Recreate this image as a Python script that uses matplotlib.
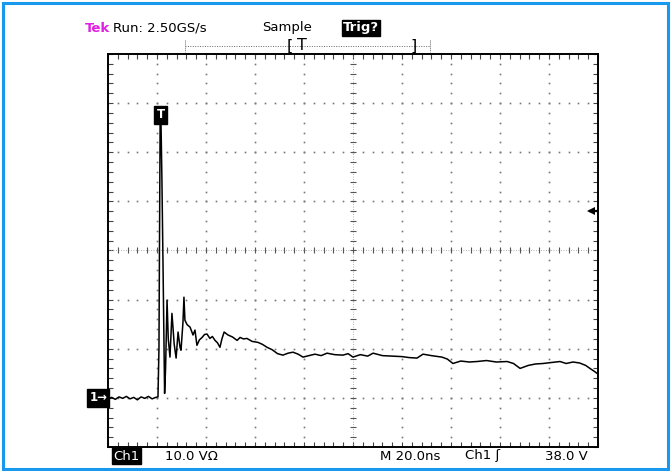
import numpy as np
import matplotlib
matplotlib.use("Agg")
import matplotlib.pyplot as plt
from matplotlib.patches import Rectangle

# scope settings (20 ns/div, 10 V/div, trigger 38 V)
t_start, t_div, n_xdiv = -20.0, 20.0, 10
v_start, v_div, n_ydiv = -10.0, 10.0, 8
trig_level = 38.0
trig_time = 1.5

# Ch1 trace
time_ns = [-20, -18.5, -17, -15.5, -14, -12.5, -11, -9.5, -8, -6.5, -5, -3.5, -2, -0.5, 0.4,
           0.8, 1.3, 1.6, 2.0, 2.5, 3.1, 3.5, 4.1, 4.6, 5.3, 6.1, 6.5, 7.0, 7.8, 8.6, 9.4, 9.8,
           10.6, 11.0, 11.4, 12.3, 13.5, 14.7, 15.5, 16.3, 17.3, 18.4, 19.4, 20.4, 21.6, 22.6,
           23.7, 24.7, 25.7, 26.5, 27.4, 29.0, 30.8, 32.7, 33.9, 35.3, 36.7, 38.8, 41.2, 43.0,
           44.9, 47.0, 49.2, 51.4, 53.5, 55.5, 57.6, 59.6, 62.0, 64.5, 67.0, 69.4, 72.5, 75.9,
           78.0, 80.0, 83.0, 86.0, 88.2, 92.0, 96.0, 100.0, 103.0, 106.1, 108.6, 112.0, 116.3,
           118.5, 120.8, 124.0, 127.5, 130.6, 134.5, 138.5, 142.9, 145.5, 148.2, 151.5, 154.5,
           157.6, 161.0, 164.5, 167.0, 169.8, 172.5, 175.0, 176.7, 178.5, 179.6]
volts = [-0.2, 0.1, -0.3, 0.2, -0.1, 0.3, -0.2, 0.1, -0.4, 0.2, -0.1, 0.3, -0.2, 0.1, 0.2,
         10.0, 58.5, 57.0, 44.7, 25.3, 0.9, 6.0, 19.9, 12.0, 8.3, 17.2, 14.5, 11.0, 8.1, 13.4, 10.3, 9.7,
         15.4, 20.5, 15.8, 14.9, 14.4, 12.8, 13.8, 10.7, 11.8, 12.3, 12.9, 13.0, 12.1, 12.5,
         11.7, 11.2, 10.3, 12.0, 13.4, 12.8, 12.4, 11.7, 12.3, 12.0, 12.1, 11.5, 11.3, 10.9,
         10.3, 9.8, 9.0, 8.7, 9.1, 9.3, 8.9, 8.3, 8.6, 8.9, 8.6, 9.1, 8.8, 8.7,
         9.0, 8.3, 8.8, 8.5, 9.1, 8.6, 8.5, 8.4, 8.2, 8.1, 8.9, 8.6, 8.3,
         7.9, 7.0, 7.5, 7.3, 7.4, 7.6, 7.3, 7.4, 7.0, 6.0, 6.6, 6.9,
         7.0, 7.2, 7.4, 7.0, 7.3, 7.1, 6.6, 6.0, 5.4, 5.0]

W, H = 671, 471
fig = plt.figure(figsize=(W / 100, H / 100), dpi=100)
fig.patch.set_facecolor("white")

# graticule box in pixels: x 108..598, y 54..447
ax = fig.add_axes([108 / W, 1 - 447 / H, 490 / W, 393 / H])
t_end = t_start + n_xdiv * t_div
v_end = v_start + n_ydiv * v_div
ax.set_xlim(t_start, t_end)
ax.set_ylim(v_start, v_end)

for s in ax.spines.values():
    s.set_linewidth(1.4)
    s.set_color("black")

ax.set_xticks(np.arange(t_start, t_end + 0.1, t_div))
ax.set_yticks(np.arange(v_start, v_end + 0.1, v_div))
ax.set_xticks(np.arange(t_start, t_end + 0.1, t_div / 5), minor=True)
ax.set_yticks(np.arange(v_start, v_end + 0.1, v_div / 5), minor=True)
ax.tick_params(which="both", direction="in", length=3.5, width=0.8, color="#444444",
               top=True, right=True, labelbottom=False, labelleft=False)

# dotted graticule
t_c = t_start + n_xdiv / 2 * t_div
v_c = v_start + n_ydiv / 2 * v_div
v_dots = np.arange(v_start, v_end + 0.1, v_div / 5)
t_dots = np.arange(t_start, t_end + 0.1, t_div / 5)
for k in range(1, n_xdiv):
    tk = t_start + k * t_div
    if tk != t_c:
        ax.plot(np.full_like(v_dots, tk), v_dots, ls="none", marker="s", ms=1.2,
                color="#777777", mew=0)
for k in range(1, n_ydiv):
    vk = v_start + k * v_div
    if vk != v_c:
        ax.plot(t_dots, np.full_like(t_dots, vk), ls="none", marker="s", ms=1.2,
                color="#777777", mew=0)

# centre cross with small ticks
ax.axvline(t_c, color="#999999", lw=0.6, ls=(0, (1, 2)))
ax.axhline(v_c, color="#999999", lw=0.6, ls=(0, (1, 2)))
ax.plot(np.full_like(v_dots, t_c), v_dots, ls="none", marker="_", ms=5, mew=0.8, color="#555555")
ax.plot(t_dots, np.full_like(t_dots, v_c), ls="none", marker="|", ms=5, mew=0.8, color="#555555")

# the trace
ax.plot(time_ns, volts, color="black", lw=1.1, solid_joinstyle="round")

# trigger marker on spike
ax.text(trig_time, 57.6, "T", color="white", fontsize=8.5, fontweight="bold", ha="center",
        va="center", bbox=dict(boxstyle="square,pad=0.18", fc="black", ec="black"))

# trigger level arrow on the right
ax.plot([t_end - 3.2, t_end - 0.4], [trig_level, trig_level], color="black", lw=1.6)
ax.plot([t_end - 3.0], [trig_level], marker="<", ms=6, color="black", mew=0)

# ground marker left of the box
ax.text(t_start - 0.3, 0, "1\u2192", transform=ax.transData, color="white", fontsize=8.5,
        fontweight="bold", ha="right", va="center",
        bbox=dict(boxstyle="square,pad=0.18", fc="black", ec="black"))

def ftext(px, py, s, **kw):
    fig.text(px / W, 1 - py / H, s, va="center", **kw)

fnt = dict(family="DejaVu Sans", fontsize=9.5)
ftext(85, 28, "Tek", color="#e020e0", fontweight="bold", **fnt)
ftext(113, 28, "Run: 2.50GS/s", color="black", **fnt)
ftext(262, 28, "Sample", color="black", **fnt)
ftext(343, 28, "Trig?", color="white", fontweight="bold",
      bbox=dict(boxstyle="square,pad=0.1", fc="black", ec="black"), **fnt)

# record window bracket
fig.add_artist(plt.Line2D([185 / W, 430 / W], [1 - 46 / H, 1 - 46 / H], color="#666666",
                          lw=0.7, ls=(0, (1, 1.5))))
for xb in (185, 430):
    fig.add_artist(plt.Line2D([xb / W, xb / W], [1 - 40 / H, 1 - 52 / H], color="#666666",
                              lw=0.7, ls=(0, (1, 1))))
big = dict(family="DejaVu Sans", fontsize=11.5)
ftext(287, 46, "[", color="black", **big)
ftext(297, 46, "T", color="black", **big)
ftext(410, 46, "]", color="black", **big)

# bottom readout
ftext(113, 456, "Ch1", color="white", bbox=dict(boxstyle="square,pad=0.1", fc="black", ec="black"), **fnt)
ftext(165, 456, "10.0 V\u03a9", color="black", **fnt)
ftext(380, 456, "M 20.0ns", color="black", **fnt)
ftext(465, 456, "Ch1 \u0283", color="black", **fnt)
ftext(545, 456, "38.0 V", color="black", **fnt)

# blue outer border
fig.add_artist(Rectangle((3 / W, 2 / H), (W - 6) / W, (H - 5) / H, transform=fig.transFigure,
                         fill=False, ec="#1899ee", lw=2.2))

fig.savefig("out.png", dpi=100)
